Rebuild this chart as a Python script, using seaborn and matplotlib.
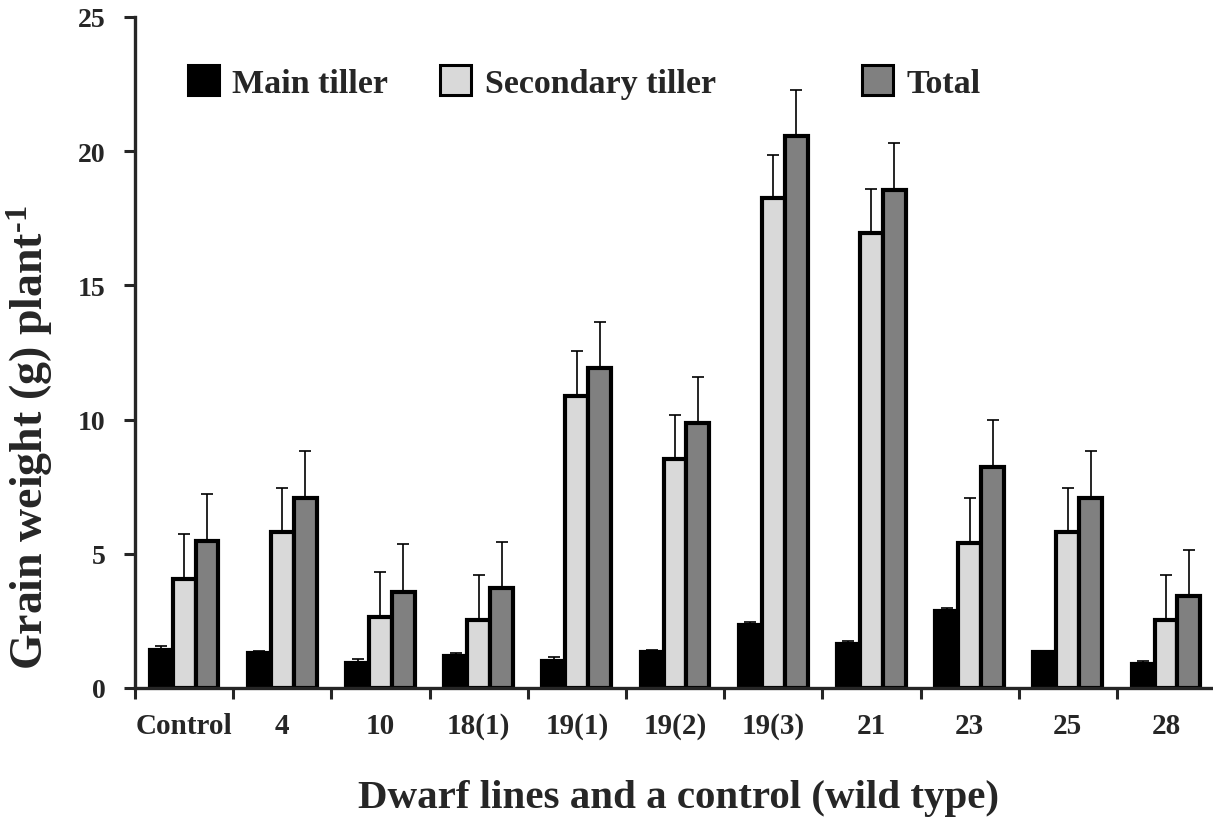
import numpy as np
import pandas as pd
import matplotlib
matplotlib.use("Agg")
import matplotlib.pyplot as plt
from matplotlib.patches import Patch
import seaborn as sns

lines = ["Control", "4", "10", "18(1)", "19(1)", "19(2)", "19(3)", "21", "23", "25", "28"]
series = ["Main tiller", "Secondary tiller", "Total"]

main = [1.43, 1.30, 0.93, 1.18, 1.02, 1.35, 2.35, 1.63, 2.88, 1.33, 0.89]
main_err = [0.12, 0.09, 0.14, 0.14, 0.13, 0.08, 0.12, 0.12, 0.11, 0.06, 0.13]
secondary = [4.06, 5.80, 2.66, 2.53, 10.89, 8.53, 18.26, 16.95, 5.40, 5.80, 2.54]
secondary_err = [1.68, 1.65, 1.66, 1.68, 1.68, 1.65, 1.60, 1.64, 1.67, 1.66, 1.67]
total = [5.49, 7.09, 3.59, 3.71, 11.91, 9.86, 20.58, 18.55, 8.25, 7.08, 3.42]
total_err = [1.72, 1.74, 1.78, 1.74, 1.73, 1.74, 1.70, 1.77, 1.75, 1.74, 1.73]

colors = ["#000000", "#d9d9d9", "#808080"]

df = pd.DataFrame({
    "line": lines * 3,
    "series": np.repeat(series, len(lines)),
    "value": main + secondary + total,
})
errs = [main_err, secondary_err, total_err]

sns.set_style("ticks")
plt.rcParams["font.family"] = ["Liberation Serif", "DejaVu Serif"]
plt.rcParams["font.weight"] = "bold"
plt.rcParams["mathtext.fontset"] = "custom"
plt.rcParams["mathtext.rm"] = "Liberation Serif:bold"
plt.rcParams["mathtext.bf"] = "Liberation Serif:bold"
plt.rcParams["mathtext.it"] = "Liberation Serif:bold"

fig = plt.figure(figsize=(12.13, 8.2), dpi=100)
ax = fig.add_axes([0.1113, 0.1598, 0.8904, 0.8183])

sns.barplot(data=df, x="line", y="value", hue="series", order=lines,
            hue_order=series, palette=colors, width=0.7, errorbar=None,
            edgecolor="black", linewidth=3, saturation=1, legend=False, ax=ax)

# upper-only error bars
for cont, err in zip(ax.containers, errs):
    xs = [b.get_x() + b.get_width() / 2 for b in cont]
    hs = [b.get_height() for b in cont]
    ax.errorbar(xs, hs, yerr=[np.zeros(len(err)), err], fmt="none",
                ecolor="black", elinewidth=1.2, capsize=4, capthick=1.2)

ax.set_xlim(-0.5, 10.5)
ax.set_ylim(0, 25)
ax.set_yticks([0, 5, 10, 15, 20, 25])

# ticks between groups, labels at group centres
ax.set_xticks(np.arange(-0.5, 10.6, 1))
ax.set_xticklabels([])
ax.set_xticks(np.arange(len(lines)), minor=True)
ax.set_xticklabels(lines, minor=True)
ax.tick_params(axis="x", which="major", length=8, width=2.2, direction="out")
ax.tick_params(axis="x", which="minor", length=0, pad=17, labelsize=21)
ax.tick_params(axis="y", length=8, width=2.2, direction="out", pad=13, labelsize=20)
for lab in ax.get_xticklabels(minor=True) + ax.get_yticklabels():
    lab.set_fontweight("bold")

sns.despine(ax=ax)
for s in ["left", "bottom"]:
    ax.spines[s].set_linewidth(2.4)

ax.set_xlabel("Dwarf lines and a control (wild type)", fontsize=29.5, fontweight="bold")
ax.set_ylabel(r"Grain weight (g) plant$^{\text{-1}}$", fontsize=33, fontweight="bold")
ax.xaxis.set_label_coords(0.503, -0.135)
ax.yaxis.set_label_coords(-0.074, 0.375)

# legend entries spaced like the original
leg_x = [0.155, 0.363, 0.711]
for name, c, x in zip(series, colors, leg_x):
    fig.legend(handles=[Patch(facecolor=c, edgecolor="black", linewidth=2.2)],
               labels=[name], loc="center left", bbox_to_anchor=(x, 0.899),
               frameon=False, borderpad=0, borderaxespad=0, handlelength=0.9,
               handleheight=1.0, handletextpad=0.4,
               prop={"size": 24.5, "weight": "bold"})

fig.savefig("out.png", dpi=100)
